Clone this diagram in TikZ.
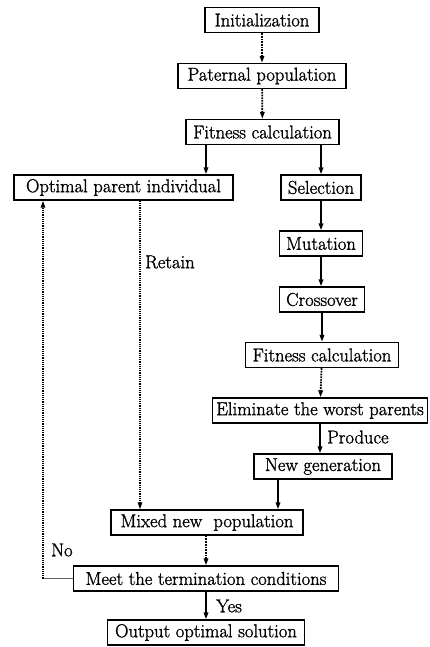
\documentclass[tikz,border=0pt]{standalone}
\usepackage{fontspec}
\setmainfont{Latin Modern Roman}[FakeBold=1.3]
\usetikzlibrary{arrows.meta,calc}
\begin{document}
\begin{tikzpicture}[x=1pt,y=-1pt,
  box/.style={draw,line width=1.4pt,minimum height=25pt,inner sep=1pt,font=\fontsize{18.6}{21}\selectfont},
  arr/.style={line width=1.8pt,-{Triangle[length=7pt,width=4.5pt]}},
  dotarr/.style={line width=1.7pt,densely dotted,-{Triangle[length=7pt,width=4.5pt]}},
  thindot/.style={line width=1.2pt,densely dotted},
  lbl/.style={anchor=west,inner sep=0pt,font=\fontsize{18.6}{21}\selectfont}]
\useasboundingbox (0,0) rectangle (429,647);
\node[box,minimum width=114pt] (init) at (262,20) {Initialization};
\node[box,minimum width=168pt] (pat) at (262,76) {Paternal population};
\node[box,minimum width=153pt] (fit1) at (262.5,132) {Fitness calculation};
\node[box,minimum width=219pt] (opt) at (123.5,187.5) {Optimal parent individual};
\node[box,minimum width=80pt] (sel) at (321,187.5) {Selection};
\node[box,minimum width=83pt] (mut) at (321,243.5) {Mutation};
\node[box,minimum width=85pt] (cro) at (322,299.5) {Crossover};
\node[box,minimum width=153pt] (fit2) at (322,355) {Fitness calculation};
\node[box,minimum width=215pt] (eli) at (320,410.5) {Eliminate the worst parents};
\node[box,minimum width=138pt] (newg) at (323,466.5) {New generation};
\node[box,minimum width=192pt] (mix) at (207,522.5) {Mixed new\ \ population};
\node[box,minimum width=265pt] (meet) at (206,578.5) {Meet the termination conditions};
\node[box,minimum width=197pt] (out) at (206,632.5) {Output optimal solution};
\coordinate (nocorner) at (43,578.5);
\draw[dotarr] (init) -- (pat);
\draw[dotarr] (pat) -- (fit1);
\draw[arr] ([xshift=-56.5pt]fit1.south) -- ([xshift=-56.5pt]fit1.south |- opt.north);
\draw[arr] ([xshift=58.5pt]fit1.south) -- ([xshift=58.5pt]fit1.south |- sel.north);
\draw[arr] (sel) -- (mut);
\draw[arr] (mut.south) -- (mut.south |- cro.north);
\draw[arr] (cro) -- (fit2);
\draw[dotarr] (fit2) -- (eli);
\draw[arr] (eli.south) -- (eli.south |- newg.north);
\draw[arr] ([xshift=-45pt]newg.south) -- ([xshift=-45pt]newg.south |- mix.north);
\draw[thindot,-{Triangle[length=7pt,width=4.5pt]}] ([xshift=16.5pt]opt.south) -- ([xshift=16.5pt]opt.south |- mix.north);
\draw[dotarr] (mix.south -| meet.north) -- (meet.north);
\draw[line width=0.6pt,gray!80!black] (meet.west) -- (nocorner);
\draw[thindot,-{Triangle[length=7pt,width=4.5pt]}] (nocorner) -- (nocorner |- opt.south);
\draw[arr] (meet) -- (out);
\node[lbl] (retain) at (145,262) {Retain};
\node[lbl] (produce) at (327,437) {Produce};
\node[lbl] (no) at (51,550) {No};
\node[lbl] (yes) at (216,606) {Yes};
\end{tikzpicture}
\end{document}
